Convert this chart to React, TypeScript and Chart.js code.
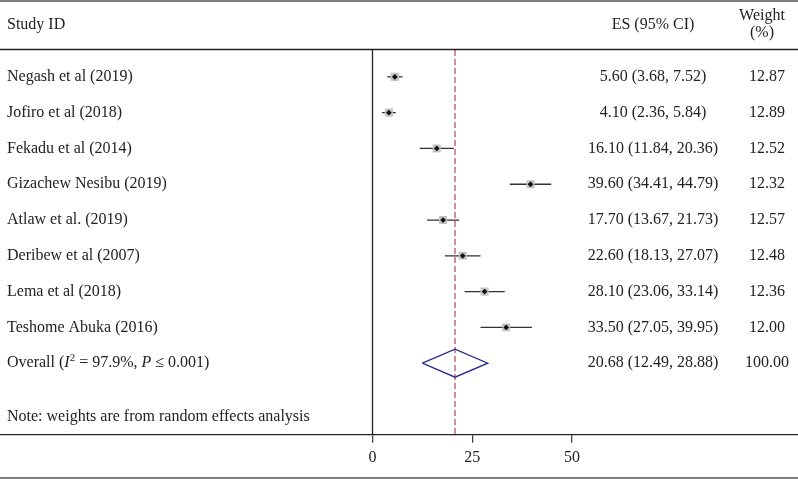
import React, { useEffect, useRef } from "react";
import Chart from "chart.js/auto";

const studies = [
  "Negash et al (2019)",
  "Jofiro et al (2018)",
  "Fekadu et al (2014)",
  "Gizachew Nesibu (2019)",
  "Atlaw et al. (2019)",
  "Deribew et al (2007)",
  "Lema et al (2018)",
  "Teshome Abuka (2016)",
];
const es = [5.6, 4.1, 16.1, 39.6, 17.7, 22.6, 28.1, 33.5];
const lo = [3.68, 2.36, 11.84, 34.41, 13.67, 18.13, 23.06, 27.05];
const hi = [7.52, 5.84, 20.36, 44.79, 21.73, 27.07, 33.14, 39.95];
const weights = [12.87, 12.89, 12.52, 12.32, 12.57, 12.48, 12.36, 12.0];
const overallES = 20.68;
const overallLo = 12.49;
const overallHi = 28.88;
const overallWeight = 100.0;
const xTicks = [0, 25, 50];

const FONT = '"Liberation Serif", "Times New Roman", serif';
const TEXT = "#222";
const FS = 16;

const forestPlugin = {
  id: "forestText",
  beforeDraw(chart: any) {
    const { ctx, width, height } = chart;
    ctx.save();
    ctx.fillStyle = "#fff";
    ctx.fillRect(0, 0, width, height);
    ctx.restore();
  },
  afterDraw(chart: any) {
    const { ctx, width, height, chartArea } = chart;
    const ys = chart.scales.y;
    ctx.save();
    // frame lines
    ctx.fillStyle = "#808080";
    ctx.fillRect(0, 0, width, 2);
    ctx.fillRect(0, height - 2, width, 2);
    ctx.strokeStyle = "#222";
    ctx.lineWidth = 1.3;
    ctx.beginPath();
    ctx.moveTo(0, chartArea.top - 0.5);
    ctx.lineTo(width, chartArea.top - 0.5);
    ctx.stroke();

    ctx.fillStyle = TEXT;
    ctx.font = `${FS}px ${FONT}`;
    ctx.textBaseline = "middle";
    const esX = 653;
    const wX = 767;
    // headers
    ctx.textAlign = "left";
    ctx.fillText("Study ID", 7, 25);
    ctx.textAlign = "center";
    ctx.fillText("ES (95% CI)", esX, 25);
    ctx.fillText("Weight", 762, 16);
    ctx.fillText("(%)", 762, 33);

    studies.forEach((s, i) => {
      const y = ys.getPixelForValue(i);
      ctx.textAlign = "left";
      ctx.fillText(s, 7, y);
      ctx.textAlign = "center";
      ctx.fillText(`${es[i].toFixed(2)} (${lo[i].toFixed(2)}, ${hi[i].toFixed(2)})`, esX, y);
      ctx.fillText(weights[i].toFixed(2), wX, y);
    });

    const oy = ys.getPixelForValue(studies.length);
    ctx.textAlign = "left";
    let x = 7;
    const seg = (t: string, font: string, dy = 0) => {
      ctx.font = font;
      ctx.fillText(t, x, oy + dy);
      x += ctx.measureText(t).width;
    };
    seg("Overall (", `${FS}px ${FONT}`);
    seg("I", `italic ${FS}px ${FONT}`);
    seg("2", `11px ${FONT}`, -5);
    seg(" = 97.9%, ", `${FS}px ${FONT}`);
    seg("P", `italic ${FS}px ${FONT}`);
    seg(" \u2264 0.001)", `${FS}px ${FONT}`);
    ctx.font = `${FS}px ${FONT}`;
    ctx.textAlign = "center";
    ctx.fillText(`${overallES.toFixed(2)} (${overallLo.toFixed(2)}, ${overallHi.toFixed(2)})`, esX, oy);
    ctx.fillText(overallWeight.toFixed(2), wX, oy);

    ctx.textAlign = "left";
    ctx.fillText("Note: weights are from random effects analysis", 7, ys.getPixelForValue(studies.length + 1.5));
    ctx.restore();
  },
};

export default function App() {
  const ref = useRef<HTMLCanvasElement>(null);
  useEffect(() => {
    if (!ref.current) return;
    const n = studies.length;
    const ciSets = studies.map((_, i) => ({
      type: "scatter" as const,
      data: [
        { x: lo[i], y: i },
        { x: hi[i], y: i },
      ],
      showLine: true,
      borderColor: "#333",
      borderWidth: 1.3,
      pointRadius: 0,
      order: 4,
    }));
    const dh = 0.39;
    const chart = new Chart(ref.current, {
      type: "scatter",
      data: {
        datasets: [
          {
            data: [
              { x: 0, y: -0.75 },
              { x: 0, y: 10 },
            ],
            showLine: true,
            borderColor: "#222",
            borderWidth: 1.3,
            pointRadius: 0,
            order: 6,
          },
          {
            data: [
              { x: overallES, y: -0.75 },
              { x: overallES, y: 10 },
            ],
            showLine: true,
            borderColor: "#c25e6e",
            borderWidth: 1.4,
            borderDash: [6, 3],
            pointRadius: 0,
            order: 5,
          },
          ...ciSets,
          {
            data: es.map((v, i) => ({ x: v, y: i })),
            pointStyle: "rect",
            pointRadius: weights.map((w) => 5.7 * Math.sqrt(w / 12.5)),
            backgroundColor: "#c4c4c4",
            borderWidth: 0,
            order: 3,
          },
          {
            data: es.map((v, i) => ({ x: v, y: i })),
            pointStyle: "rectRot",
            pointRadius: 2.9,
            backgroundColor: "#111",
            borderWidth: 0,
            order: 1,
          },
          {
            data: [
              { x: overallLo, y: n },
              { x: overallES, y: n - dh },
              { x: overallHi, y: n },
              { x: overallES, y: n + dh },
              { x: overallLo, y: n },
            ],
            showLine: true,
            borderColor: "#2b2b8e",
            borderWidth: 1.3,
            borderJoinStyle: "miter",
            pointRadius: 0,
            fill: false,
            order: 2,
          },
        ],
      },
      options: {
        animation: false,
        responsive: false,
        events: [],
        layout: { autoPadding: false, padding: { top: 50, bottom: 7, left: 0, right: 0 } },
        plugins: { legend: { display: false }, tooltip: { enabled: false } },
        scales: {
          x: {
            type: "linear",
            min: -93.36,
            max: 106.64,
            afterBuildTicks: (axis: any) => {
              axis.ticks = xTicks.map((v) => ({ value: v }));
            },
            grid: {
              drawOnChartArea: false,
              drawTicks: true,
              tickLength: 8,
              color: "#444",
              lineWidth: 1.3,
            },
            border: { display: true, color: "#222", width: 1.3 },
            ticks: {
              autoSkip: false,
              maxRotation: 0,
              padding: 5,
              color: TEXT,
              font: { family: FONT, size: FS },
            },
          },
          y: {
            type: "linear",
            display: false,
            reverse: true,
            min: -0.75,
            max: 10,
          },
        },
      },
      plugins: [forestPlugin],
    } as any);
    return () => chart.destroy();
  }, []);
  return (
    <div style={{ position: "fixed", left: 0, top: 0, width: 798, height: 479, background: "#fff" }}>
      <canvas ref={ref} width={798} height={479} style={{ display: "block" }} />
    </div>
  );
}
